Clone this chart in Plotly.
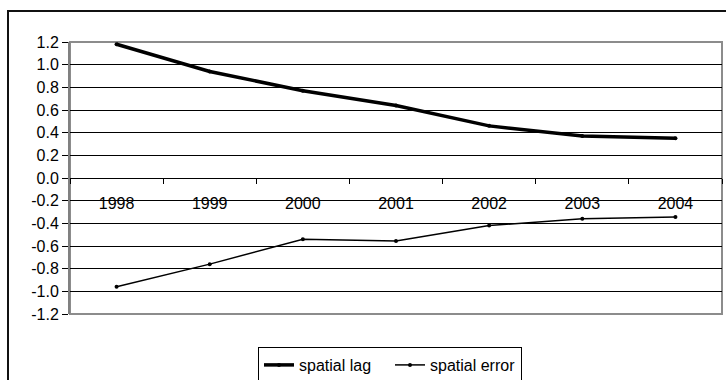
import plotly.graph_objects as go

years = ["1998", "1999", "2000", "2001", "2002", "2003", "2004"]
spatial_lag = [1.18, 0.94, 0.77, 0.64, 0.46, 0.37, 0.35]
spatial_error = [-0.96, -0.76, -0.54, -0.555, -0.42, -0.36, -0.345]
y_ticks = [-1.2, -1.0, -0.8, -0.6, -0.4, -0.2, 0.0, 0.2, 0.4, 0.6, 0.8, 1.0, 1.2]
y_tick_labels = ["-1.2", "-1.0", "-0.8", "-0.6", "-0.4", "-0.2", "0.0",
                 "0.2", "0.4", "0.6", "0.8", "1.0", "1.2"]

FONT = "Liberation Sans, Arial, sans-serif"

fig = go.Figure()
fig.add_trace(go.Scatter(
    x=years, y=spatial_lag, name="spatial lag", mode="lines+markers",
    line=dict(color="black", width=3.5), marker=dict(color="black", size=4),
))
fig.add_trace(go.Scatter(
    x=years, y=spatial_error, name="spatial error", mode="lines+markers",
    line=dict(color="black", width=1.5), marker=dict(color="black", size=4),
))

L, R, T, B = 70, 4, 42, 66
W, H = 726, 380
pw = W - L - R
ph = H - T - B

def px_x(p):
    return (p - L) / pw

def px_y(p):
    return (H - B - p) / ph

fig.update_layout(
    width=W, height=H,
    margin=dict(l=L, r=R, t=T, b=B, autoexpand=False),
    paper_bgcolor="white", plot_bgcolor="white",
    font=dict(family=FONT, size=16, color="black"),
    showlegend=True,
    legend=dict(
        orientation="h", x=px_x(258), xanchor="left", y=px_y(347), yanchor="top",
        bordercolor="black", borderwidth=1, bgcolor="white",
        font=dict(family=FONT, size=16, color="black"),
        itemwidth=30, entrywidth=86, entrywidthmode="pixels",
    ),
    xaxis=dict(
        type="category", range=[-0.5, 6.5],
        anchor="free", position=0.5,
        showline=True, linecolor="black", linewidth=1,
        ticks="outside", tickson="boundaries", ticklen=5, tickcolor="black",
        ticklabelstandoff=11,
        showgrid=False, zeroline=False,
        tickfont=dict(family=FONT, size=16, color="black"),
    ),
    yaxis=dict(
        range=[-1.2, 1.2], tickvals=y_ticks, ticktext=y_tick_labels,
        showgrid=True, gridcolor="black", gridwidth=1,
        zeroline=False,
        showline=True, linecolor="#808080", linewidth=2,
        ticks="outside", ticklen=6, tickcolor="black",
        tickfont=dict(family=FONT, size=16, color="black"),
    ),
    shapes=[
        dict(type="rect", xref="paper", yref="paper", x0=0, x1=1, y0=0, y1=1,
             line=dict(color="#8c8c8c", width=2), layer="below"),
        dict(type="rect", xref="paper", yref="paper",
             x0=px_x(8), x1=px_x(740), y0=px_y(400), y1=px_y(11),
             line=dict(color="#111111", width=2), layer="above"),
    ],
)

fig.write_html("out.html")
